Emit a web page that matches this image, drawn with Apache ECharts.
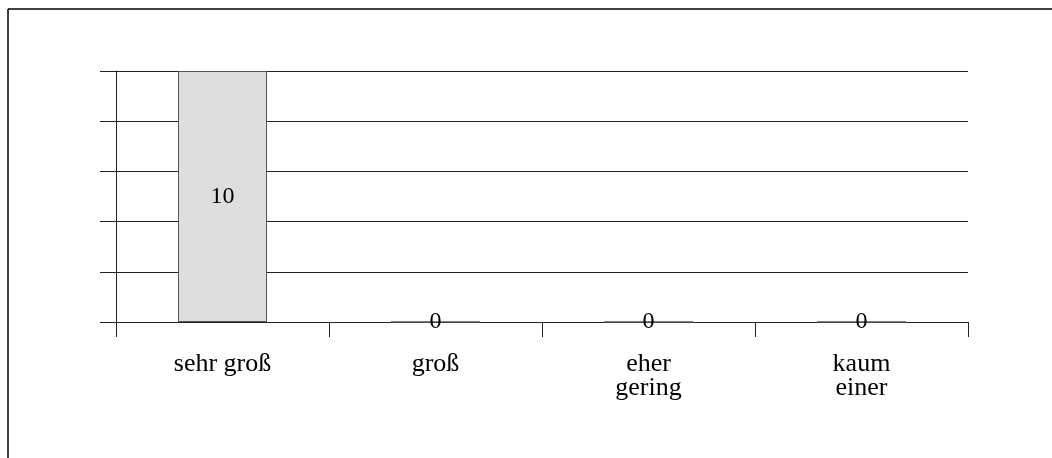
<!DOCTYPE html>
<html>
<head>
<meta charset="utf-8">
<script src="https://cdn.jsdelivr.net/npm/echarts@6/dist/echarts.min.js"></script>
<style>
  html, body { margin: 0; padding: 0; background: #fff; }
  #chart { width: 1052px; height: 458px; }
</style>
</head>
<body>
<div id="chart"></div>
<script>
// Antwortkategorien und Anzahl der Nennungen
const categories = ['sehr groß', 'groß', 'eher\ngering', 'kaum\neiner'];
const counts = [10, 0, 0, 0];
const yMin = 0, yMax = 10, yStep = 2;

const serif = '"Liberation Serif", "Times New Roman", serif';
const chart = echarts.init(document.getElementById('chart'), null, { renderer: 'canvas' });

chart.setOption({
  backgroundColor: '#fff',
  animation: false,
  grid: { left: 116, right: 84, top: 71, bottom: 136 },
  graphic: [
    { type: 'line', shape: { x1: 8, y1: 9, x2: 1052, y2: 9 }, style: { stroke: '#000', lineWidth: 1.5 } },
    { type: 'line', shape: { x1: 8, y1: 9, x2: 8, y2: 458 }, style: { stroke: '#000', lineWidth: 1.5 } }
  ],
  xAxis: {
    type: 'category',
    data: categories,
    axisLine: { show: true, lineStyle: { color: '#222', width: 1 } },
    axisTick: { show: true, length: 15, lineStyle: { color: '#222' } },
    axisLabel: {
      margin: 30,
      color: '#000',
      fontFamily: serif,
      fontSize: 26,
      lineHeight: 24,
      interval: 0
    }
  },
  yAxis: {
    type: 'value',
    min: yMin,
    max: yMax,
    interval: yStep,
    axisLine: { show: true, lineStyle: { color: '#222', width: 1 } },
    axisTick: { show: true, length: 16, lineStyle: { color: '#222' } },
    axisLabel: { show: false },
    splitLine: { show: true, lineStyle: { color: '#222', width: 1 } }
  },
  series: [{
    type: 'bar',
    data: counts,
    barWidth: 89,
    itemStyle: { color: '#dedede', borderColor: '#555', borderWidth: 1 },
    label: {
      show: true,
      position: 'inside',
      color: '#000',
      fontFamily: serif,
      fontSize: 24,
      formatter: p => String(p.value)
    }
  }]
});
</script>
</body>
</html>
